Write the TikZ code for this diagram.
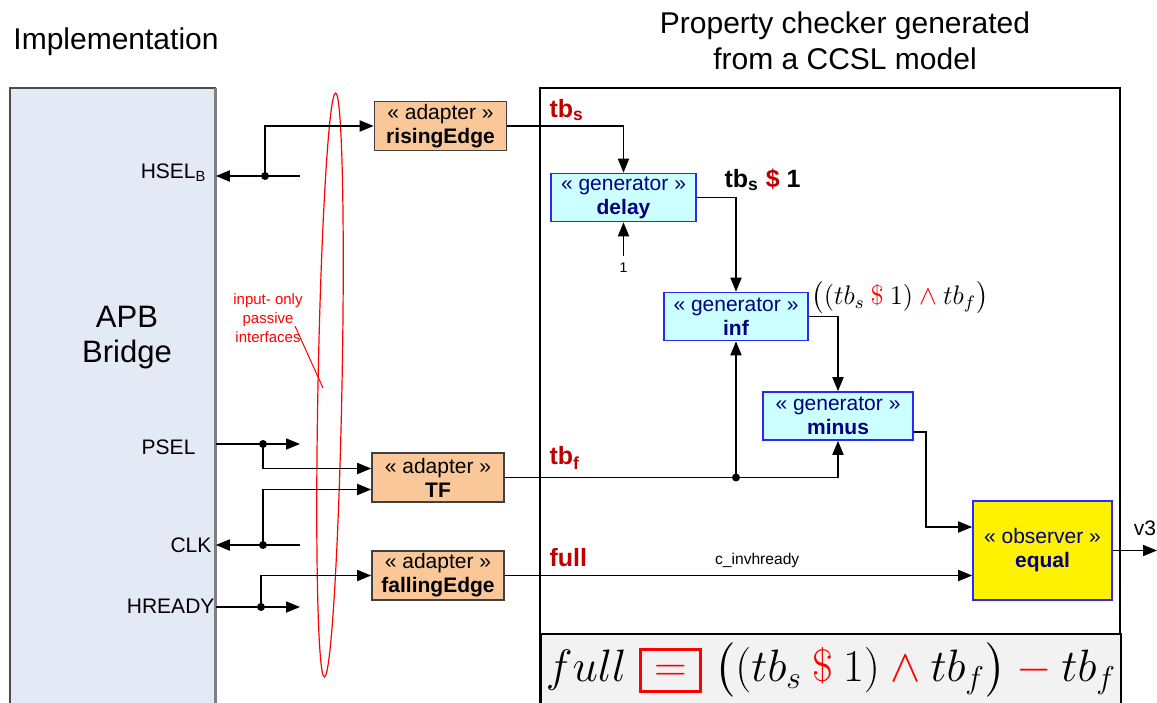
\documentclass[tikz,border=0pt]{standalone}
\usepackage[no-math]{fontspec}
\setmainfont{Liberation Sans}
\usepackage{amsmath}
\usepackage{amssymb}
\usetikzlibrary{arrows.meta,calc}

\definecolor{apbblue}{RGB}{228,234,245}
\definecolor{adapterfill}{RGB}{250,200,152}
\definecolor{genfill}{RGB}{204,255,255}
\definecolor{genline}{RGB}{40,40,255}
\definecolor{gentext}{RGB}{0,0,128}
\definecolor{sigred}{RGB}{192,0,0}
\definecolor{formgray}{RGB}{242,242,242}

\begin{document}
\begin{tikzpicture}[x=0.5pt,y=-0.5pt,>={Triangle[length=7pt,width=5.5pt]},
    line width=0.9pt,
    adapter/.style={draw=black!75,fill=adapterfill,line width=0.8pt,inner sep=0pt,
      minimum width=66pt,minimum height=24.5pt,align=center,
      font=\fontsize{10.5}{12}\selectfont},
    generator/.style={draw=genline,fill=genfill,text=gentext,line width=0.8pt,
      inner sep=0pt,minimum height=24pt,align=center,
      font=\fontsize{10.5}{12}\selectfont},
    observer/.style={generator,fill=yellow,minimum width=69.5pt,minimum height=49.5pt},
    port/.style={anchor=east,font=\fontsize{10.5}{12}\selectfont},
    sig/.style={anchor=west,text=sigred,font=\bfseries\fontsize{12.5}{14}\selectfont},
    title/.style={align=center,font=\fontsize{15}{18}\selectfont}]
  \clip (0,0) rectangle (1157,702);

  % titles
  \node[title] (implTitle) at (116,42) {Implementation};
  \node[title] (checkTitle) at (845,41) {Property checker generated\\from a CCSL model};

  % implementation side
  \node[fill=apbblue,anchor=north west,inner sep=0pt,minimum width=102pt,
    minimum height=320pt] (apb) at (10,88) {};
  \draw[black!70,line width=0.8pt] (apb.south west) -- (apb.north west) -- (apb.north east);
  \draw[black!50,line width=1.5pt] (apb.north east) -- (apb.south east);
  \node[align=center,font=\fontsize{15.5}{17.5}\selectfont] (apbText) at (127,338) {APB\\Bridge};

  \node[port] (hsel) at (214,173) {HSEL\textsubscript{B}};
  \node[port] (psel) at (203,447) {PSEL};
  \node[port] (clk) at (219,545) {CLK};
  \node[port] (hready) at (222,606) {HREADY};

  % passive interfaces
  \draw[red,line width=0.6pt] (330,385) ellipse [x radius=6pt,y radius=146pt,rotate=-1.1];
  \node[red,align=center,font=\fontsize{7.5}{9.5}\selectfont] (passive) at (268,318)
    {input- only\\passive\\interfaces};
  \draw[red,line width=0.5pt] (295,326) -- (323,388);

  % adapters
  \node[adapter] (risingEdge) at (440.5,126) {« adapter »\\\textbf{risingEdge}};
  \node[adapter] (tf) at (438,477.5) {« adapter »\\\textbf{TF}};
  \node[adapter] (fallingEdge) at (438,575.5) {« adapter »\\\textbf{fallingEdge}};

  \coordinate (hselEnd) at (300,176);
  \coordinate (hselDot) at (265,176);
  \coordinate (pselEnd) at (300,444);
  \coordinate (pselDot) at (263,444);
  \coordinate (clkEnd) at (300,545);
  \coordinate (clkDot) at (263,545);
  \coordinate (hreadyEnd) at (300,607);
  \coordinate (hreadyDot) at (261,607);

  \draw[->] (hselEnd) -- (apb.east |- hselEnd);
  \draw[->] (hselDot) |- (risingEdge.west);
  \draw[->] (apb.east |- pselEnd) -- (pselEnd);
  \draw[->] (pselDot) |- ($(tf.west)+(0,-9)$);
  \draw[->] (clkEnd) -- (apb.east |- clkEnd);
  \draw[->] (clkDot) |- ($(tf.west)+(0,12)$);
  \draw[->] (apb.east |- hreadyEnd) -- (hreadyEnd);
  \draw[->] (hreadyDot) |- (fallingEdge.west);
  \foreach \d in {hselDot,pselDot,clkDot,hreadyDot}
    \fill (\d) circle (2pt);

  % property checker
  \draw[line width=1pt] (540,88) rectangle (1120,720);
  \node[draw,fill=formgray,line width=1pt,anchor=north west,inner sep=0pt,
    minimum width=290pt,minimum height=45pt] (formulaBox) at (540,633) {};

  \node[generator,minimum width=72.5pt] (delay) at (623.5,197.5) {« generator »\\\textbf{delay}};
  \node[generator,minimum width=72pt] (inf) at (736,316.5) {« generator »\\\textbf{inf}};
  \node[generator,minimum width=75pt] (minus) at (838,416) {« generator »\\\textbf{minus}};
  \node[observer] (equal) at (1042.5,550.5) {« observer »\\\textbf{equal}};

  \node[sig] (tbs) at (542,110) {tb\textsubscript{s}};
  \node[sig] (tbf) at (542,458) {tb\textsubscript{f}};
  \node[sig] (full) at (542,558) {full};
  \node[anchor=west,font=\bfseries\fontsize{12.5}{14}\selectfont] (tbsDelay) at (717,180)
    {tb\textsubscript{s} \textcolor{sigred}{\$} 1};
  \node[anchor=west,font=\fontsize{12}{14}\selectfont] (infExpr) at (804,298)
    {\scalebox{1.12}{$\bigl((tb_s \mathbin{\textcolor{red}{\$}} 1) \mathbin{\textcolor{red}{\wedge}} tb_f\bigr)$}};
  \node[font=\fontsize{7}{8}\selectfont] (one) at (623.5,268) {1};

  \draw[->] (risingEdge.east) -| (delay.north);
  \draw[->] (one.north) -- (delay.south);
  \draw[->] (delay.east) -| (inf.north);
  \draw[->] (inf.east) -| (minus.north);
  \draw[->] (tf.east) -| (minus.south);
  \coordinate (tfDot) at (inf.south |- tf.east);
  \draw[->] (tfDot) -- (inf.south);
  \fill (tfDot) circle (2pt);
  \draw[->] ($(minus.east)+(0,16)$) -- ++(12,0) |- ($(equal.west)+(0,-23.5)$);
  \draw[->] (fallingEdge.east) -- (equal.west |- fallingEdge.east)
    node[pos=0.54,above,font=\fontsize{7.8}{9}\selectfont] {c\_invhready};
  \coordinate (v3End) at (1157,550.5);
  \draw[->] (equal.east) -- (v3End);
  \node[font=\fontsize{10.5}{12}\selectfont] (v3) at (1145,528) {v3};

  % CCSL relation
  \node[font=\fontsize{20.74}{25}\selectfont] (formula) at (831,670)
    {\scalebox{1.095}{$full\;\mbox{\setlength\fboxrule{1.4pt}\setlength\fboxsep{4pt}\textcolor{red}{\fbox{\rule{0pt}{10pt}\hspace{1.5pt}$=$\hspace{1.5pt}}}}\;
     \bigl((tb_s \mathbin{\textcolor{red}{\$}} 1) \mathbin{\textcolor{red}{\wedge}} tb_f\bigr)
     \mathbin{\textcolor{red}{-}} tb_f$}};
\end{tikzpicture}
\end{document}
